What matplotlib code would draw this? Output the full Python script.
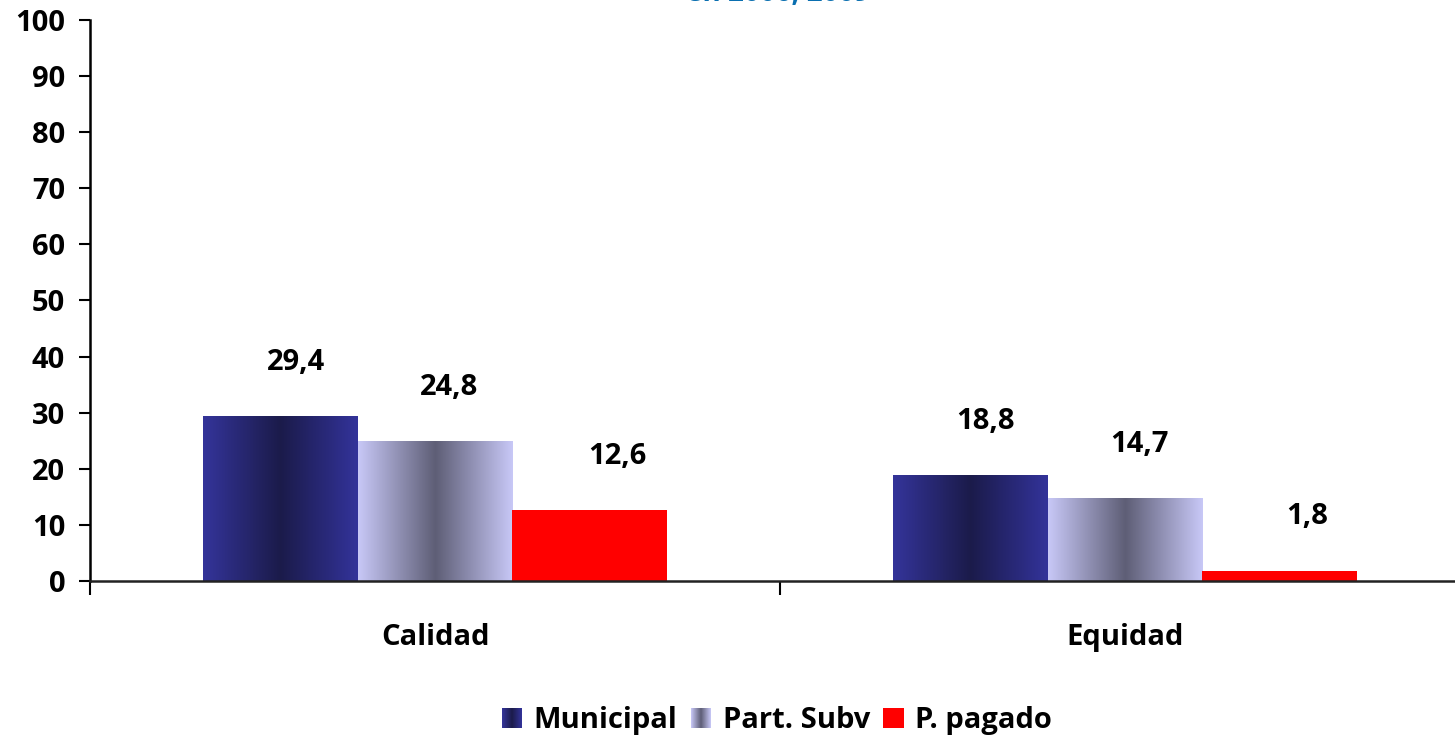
import numpy as np
import matplotlib.pyplot as plt
from matplotlib.colors import LinearSegmentedColormap
from matplotlib.legend_handler import HandlerBase
from matplotlib.patches import Rectangle

# data
categories = ["Calidad", "Equidad"]
series = ["Municipal", "Part. Subv", "P. pagado"]
municipal = [29.4, 18.8]
part_subv = [24.8, 14.7]
p_pagado = [12.6, 1.8]
yticks = list(range(0, 110, 10))

plt.rcParams['font.family'] = ['Open Sans', 'DejaVu Sans']
plt.rcParams['font.weight'] = 'bold'

# gradient colour maps (edges -> middle dark -> edges)
cmap_mun = LinearSegmentedColormap.from_list(
    "mun", ["#34349a", "#1b1b4a", "#33339a"])
cmap_sub = LinearSegmentedColormap.from_list(
    "sub", ["#c8c8f7", "#5e5e76", "#c8c8f7"])
fills = [cmap_mun, cmap_sub, "#ff0000"]

fig = plt.figure(figsize=(14.55, 7.40), dpi=100)
ax = fig.add_axes([0.062, 0.215, 0.938, 0.758])

x = np.arange(len(categories))
width = 0.224
values = [municipal, part_subv, p_pagado]
label_dx = [0.022, 0.02, 0.04]
fs = 21

for i, vals in enumerate(values):
    pos = x + (i - 1) * width
    if isinstance(fills[i], str):
        ax.bar(pos, vals, width, color=fills[i], zorder=2)
    else:
        bars = ax.bar(pos, vals, width, color="none", zorder=2)
        grad = np.linspace(0, 1, 256).reshape(1, -1)
        for b in bars:
            x0, y0 = b.get_x(), b.get_y()
            ax.imshow(grad, cmap=fills[i], aspect="auto", zorder=2,
                      extent=[x0, x0 + b.get_width(), y0, y0 + b.get_height()],
                      interpolation="bilinear")
    for px, v in zip(pos, vals):
        ax.text(px + label_dx[i], v + 9.6, f"{v:.1f}".replace(".", ","),
                ha="center", va="center", fontsize=fs, fontweight="bold")

ax.set_yticks(yticks)
ax.set_yticklabels([str(t) for t in yticks], fontsize=fs, fontweight="bold")
ax.tick_params(axis="y", direction="out", length=8, width=1.5, pad=10)

ax.set_xticks(x)
ax.set_xticklabels(categories, fontsize=fs, fontweight="bold")
ax.set_xticks([-0.5, 0.5, 1.5], minor=True)
ax.tick_params(axis="x", which="major", length=0, pad=30)
ax.tick_params(axis="x", which="minor", direction="out", length=10, width=1.5)

ax.set_xlim(-0.5, 1.478)
ax.set_ylim(0, 100)

for s in ["top", "right"]:
    ax.spines[s].set_visible(False)
ax.spines["left"].set_linewidth(1.8)
ax.spines["bottom"].set_linewidth(1.8)
ax.spines["bottom"].set_color("#222222")


class GradHandler(HandlerBase):
    def __init__(self, fill):
        super().__init__()
        self.fill = fill

    def create_artists(self, legend, orig, xd, yd, w, h, fs, trans):
        arts = []
        if isinstance(self.fill, str):
            arts.append(Rectangle((xd, yd), w, h, facecolor=self.fill,
                                  transform=trans))
            return arts
        n = 20
        for k in range(n):
            c = self.fill((k + 0.5) / n)
            arts.append(Rectangle((xd + w * k / n, yd), w / n + 0.05, h,
                                  facecolor=c, edgecolor="none",
                                  transform=trans))
        return arts


handles = [Rectangle((0, 0), 1, 1) for _ in series]
hmap = {h: GradHandler(f) for h, f in zip(handles, fills)}
fig.legend(handles, series, handler_map=hmap, loc="center",
           bbox_to_anchor=(0.534, 0.026), ncol=3, frameon=False,
           handlelength=0.7, handleheight=0.7,
           handletextpad=0.4, columnspacing=0.45,
           prop={"weight": "bold", "size": 21})

# chart title, mostly cut off by the top edge in the original
fig.text(0.535, 1 - 1.0 / 740, "en 2006, 2009", color="#0a6fb0", fontsize=20,
         fontweight="bold", ha="center", va="baseline")

fig.savefig("out.png", dpi=100)
